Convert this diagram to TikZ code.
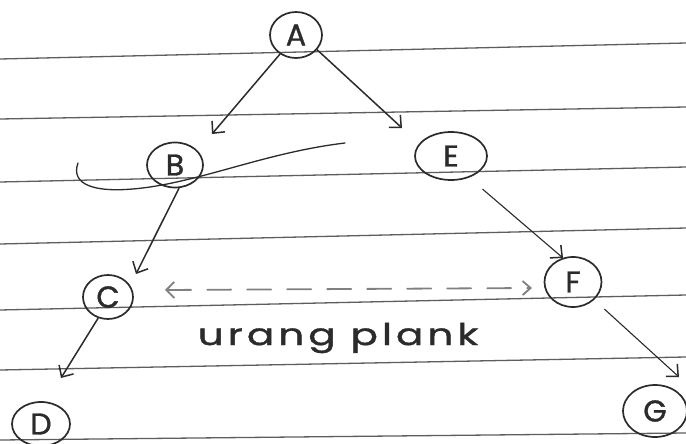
\documentclass[tikz,border=0pt]{standalone}
\usepackage{fontspec}
\setmainfont{Poppins}[FakeBold=1.2]
\usetikzlibrary{arrows.meta,shapes.geometric}
\definecolor{ink}{HTML}{2B2B2B}
\definecolor{ruling}{HTML}{5E5E5E}
\begin{document}
\begin{tikzpicture}[x=1pt,y=-1pt,
  rule/.style={draw=ruling,line width=1.3pt},
  vtx/.style={ellipse,draw=ink,line width=1.7pt,inner sep=0pt,text=ink,
    font=\fontsize{30}{30}\selectfont},
  edge/.style={draw=ink,line width=1.5pt,line cap=round,
    -{Straight Barb[length=9pt,width=17pt,line width=1.5pt]}},
  thin edge/.style={edge,line width=1.1pt},
  swap/.style={draw=ink!60,line width=1.8pt,line cap=round,
    dash pattern=on 24pt off 16pt,
    {Straight Barb[length=8pt,width=16pt]}-{Straight Barb[length=8pt,width=14pt]}}]
\useasboundingbox (0,0) rectangle (686,444);
\fill[white] (0,0) rectangle (686,444);

% ruled lines of the notebook page
\foreach \yl/\yr in {59/43,119/107,182/167,244/228,310/295,370/357,440/433}
  \draw[rule] (0,\yl) -- (686,\yr);

% tree nodes
\node[vtx,minimum width=52pt,minimum height=46pt] (A) at (296,35) {A};
\node[vtx,minimum width=56pt,minimum height=45pt] (B) at (175,165) {B};
\node[vtx,minimum width=72pt,minimum height=48pt] (E) at (451,156) {E};
\node[vtx,minimum width=50pt,minimum height=44pt] (C) at (108,297) {C};
\node[vtx,minimum width=57pt,minimum height=50pt] (F) at (573,282) {F};
\node[vtx,minimum width=58pt,minimum height=44pt] (D) at (41,424) {D};
\node[vtx,minimum width=64pt,minimum height=52pt] (G) at (655,411) {G};

% free arrow ends
\coordinate (tipB) at (212,134);
\coordinate (tipE) at (402,128);
\coordinate (tipC) at (136,274);
\coordinate (tipF) at (563,258);
\coordinate (tipD) at (61,378);
\coordinate (tipG) at (679,377);
\coordinate (swapL) at (165,290);
\coordinate (swapR) at (532,288);

% edges
\draw[edge] (A.230) -- (tipB);
\draw[edge] (A.-35) -- (tipE);
\draw[edge] (B.-80) -- (tipC);
\draw[thin edge,shorten <=18pt] (E.-50) -- (tipF);
\draw[edge] (C.-115) -- (tipD);
\draw[thin edge,shorten <=14pt] (F.-40) -- (tipG);

% dashed swap between C and F
\draw[swap] (swapL) -- (swapR);

% loop stroke through B
\draw[ink,line width=1.3pt,line cap=round]
  (78,163) .. controls (70,185) and (95,195) .. (150,187)
  .. controls (210,178) and (270,152) .. (345,143);

% caption
\node[text=ink,font=\fontsize{30}{30}\selectfont\addfontfeatures{LetterSpace=10},
  xscale=1.35] (cap) at (338,338) {urang plank};
\end{tikzpicture}
\end{document}
